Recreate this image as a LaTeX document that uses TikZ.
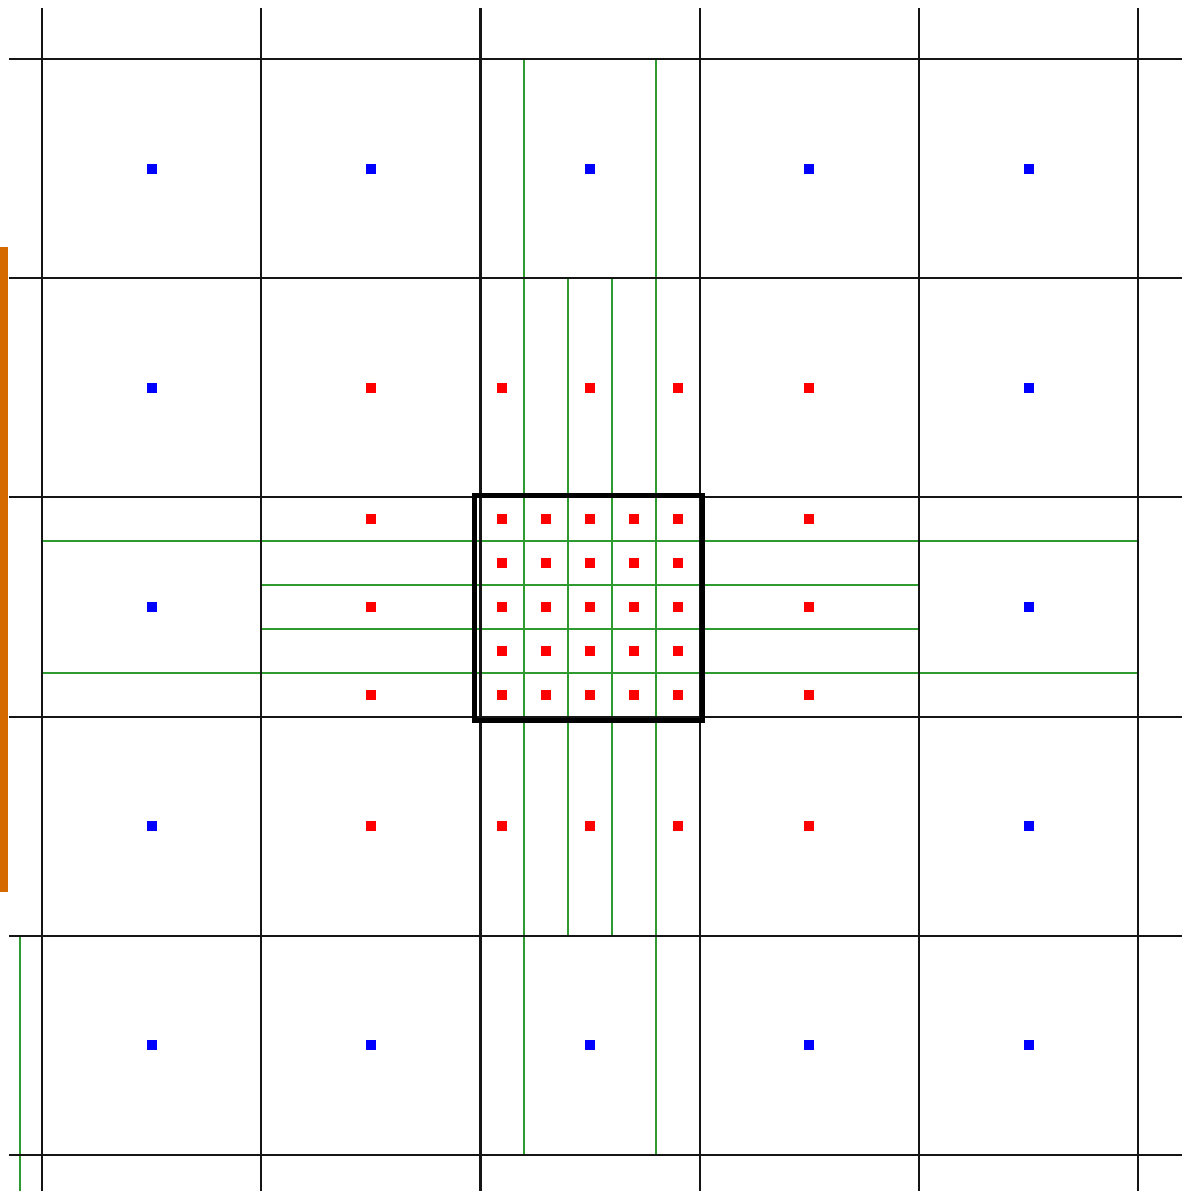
\documentclass[tikz,border=0pt]{standalone}
\definecolor{coarse}{HTML}{0000FF}
\definecolor{fine}{HTML}{FF0000}
\definecolor{refine}{HTML}{2F9A2F}
\definecolor{gridline}{HTML}{151515}
\definecolor{marker}{HTML}{D46A00}
\newcommand{\cellpt}[3]{\fill[#1] (#2,#3) ++(-0.023,-0.023) rectangle ++(0.046,0.046);}

\begin{document}
\begin{tikzpicture}[x=2cm, y=2cm]
  \useasboundingbox (-2.692,-2.664) rectangle (2.701,2.769);

  % Orange bar
  \fill[marker] (-2.692,-1.300) rectangle (-2.655,1.642);

  % Refinement lines
  \draw[refine, line width=0.5pt] (-0.3,2.5) -- (-0.3,-2.5);
  \draw[refine, line width=0.5pt] (0.3,2.5) -- (0.3,-2.5);
  \draw[refine, line width=0.5pt] (-0.1,1.5) -- (-0.1,-1.5);
  \draw[refine, line width=0.5pt] (0.1,1.5) -- (0.1,-1.5);
  \draw[refine, line width=0.5pt] (-2.5,0.3) -- (2.5,0.3);
  \draw[refine, line width=0.5pt] (-2.5,-0.3) -- (2.5,-0.3);
  \draw[refine, line width=0.5pt] (-1.5,0.1) -- (1.5,0.1);
  \draw[refine, line width=0.5pt] (-1.5,-0.1) -- (1.5,-0.1);
  \draw[refine, line width=0.5pt] (-2.6,-1.5) -- (-2.6,-2.664);

  % Coarse grid
  \foreach \k in {-2.5,-1.5,-0.5,0.5,1.5,2.5} {
    \draw[gridline, line width=0.55pt] (\k,2.733) -- (\k,-2.664);
    \draw[gridline, line width=0.55pt] (-2.651,\k) -- (2.701,\k);
  }

  % Coarse cell points
  \foreach \i in {-2,...,2} {
    \cellpt{coarse}{\i}{2}
    \cellpt{coarse}{\i}{-2}
  }
  \foreach \j in {-1,0,1} {
    \cellpt{coarse}{-2}{\j}
    \cellpt{coarse}{2}{\j}
  }

  % Refined points
  \foreach \a in {-0.4,-0.2,0,0.2,0.4} {
    \foreach \b in {-0.4,-0.2,0,0.2,0.4} {
      \cellpt{fine}{\a}{\b}
    }
  }
  \foreach \a in {-0.4,0,0.4} {
    \foreach \s in {-1,1} {
      \cellpt{fine}{\a}{\s}
      \cellpt{fine}{\s}{\a}
    }
  }
  \foreach \s in {-1,1} {
    \cellpt{fine}{\s}{1}
    \cellpt{fine}{\s}{-1}
  }

  % Patch outline
  \draw[black, line width=1.3pt] (-0.528,-0.518) rectangle (0.514,0.51);
\end{tikzpicture}
\end{document}
